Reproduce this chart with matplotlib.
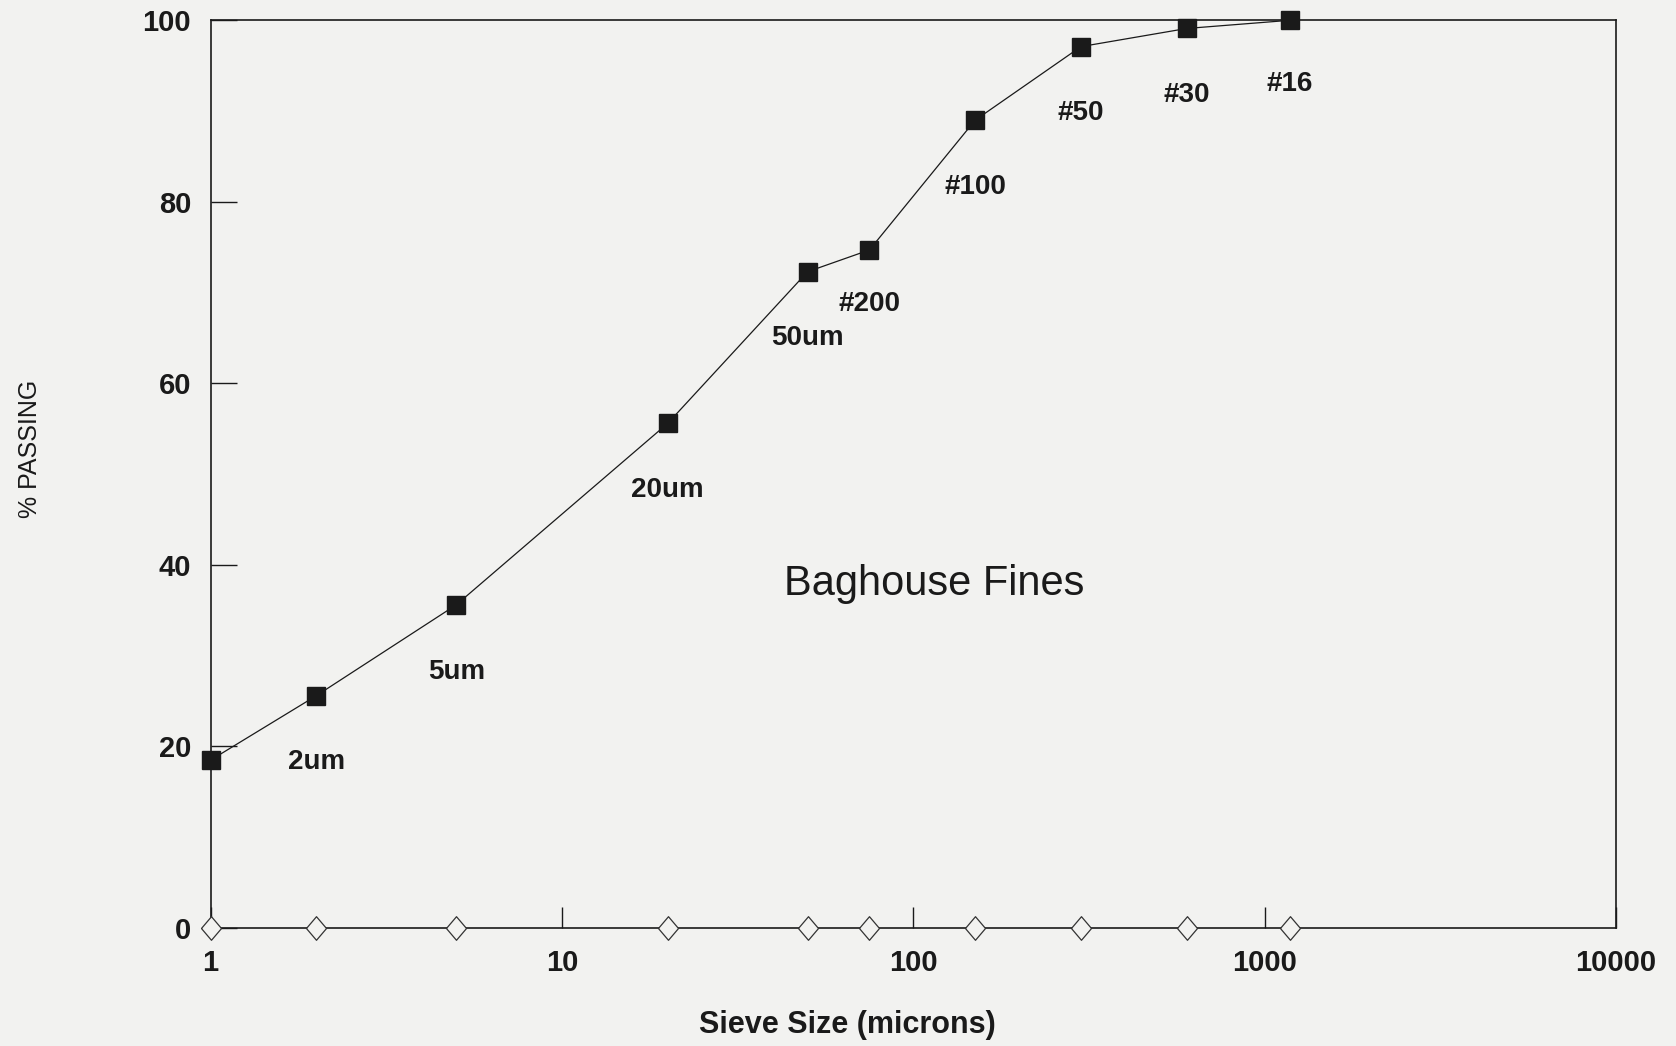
import numpy as np
import matplotlib
matplotlib.use('Agg')
import matplotlib.pyplot as plt

# sieve sizes (microns) and cumulative percent passing
sizes = [1, 2, 5, 20, 50, 75, 150, 300, 600, 1180]
passing = [18.5, 25.6, 35.6, 55.6, 72.3, 74.7, 89.0, 97.1, 99.1, 100.0]
point_labels = ['', '2um', '5um', '20um', '50um', '#200', '#100', '#50', '#30', '#16']
# vertical label offsets in points (below the marker)
label_dy = [0, -48, -48, -48, -48, -39, -48, -48, -48, -46]

yticks = [0, 20, 40, 60, 80, 100]
xticks = [1, 10, 100, 1000, 10000]
xtick_labels = ['1', '10', '100', '1000', '10000']

plt.rcParams['font.family'] = ['Liberation Sans', 'DejaVu Sans']
paper = '#f2f2f0'
ink = '#1a1a1a'

fig = plt.figure(figsize=(16.76, 10.46), dpi=100, facecolor=paper)
ax = fig.add_axes([0.1257, 0.1128, 0.8385, 0.8678], facecolor=paper)

ax.plot(sizes, passing, '-', color=ink, lw=0.9, marker='s', ms=13,
        mfc=ink, mec=ink, clip_on=False, zorder=3)

# open diamonds along the zero line
diamond = [(-0.85, 0), (0, 1), (0.85, 0), (0, -1), (-0.85, 0)]
ax.plot(sizes, np.zeros(len(sizes)), ls='none', marker=diamond, ms=17,
        mfc=paper, mec='#333333', mew=0.9, clip_on=False, zorder=4)

for x, y, lab, dy in zip(sizes, passing, point_labels, label_dy):
    if lab:
        ax.annotate(lab, (x, y), xytext=(0, dy), textcoords='offset points',
                    ha='center', va='center', fontsize=20, fontweight='bold',
                    color=ink)

ax.text(0.515, 0.379, 'Baghouse Fines', transform=ax.transAxes,
        ha='center', va='center', fontsize=30, color=ink)

ax.set_xscale('log')
ax.set_xlim(1, 10000)
ax.set_ylim(0, 100)
ax.set_xticks(xticks)
ax.set_xticklabels(xtick_labels)
ax.set_yticks(yticks)
ax.minorticks_off()
ax.tick_params(axis='y', direction='in', length=19, width=1, pad=14,
               labelsize=21, colors=ink)
ax.tick_params(axis='x', direction='in', length=15, width=1, pad=15,
               labelsize=21, colors=ink)
for lab in ax.get_xticklabels() + ax.get_yticklabels():
    lab.set_fontweight('bold')

for sp in ax.spines.values():
    sp.set_linewidth(1.2)
    sp.set_color(ink)

# axis titles placed in figure coordinates
fig.text(847 / 1676, 1 - 1025 / 1046, 'Sieve Size (microns)', fontsize=22,
         fontweight='bold', color=ink, ha='center', va='center')
fig.text(30 / 1676, 1 - 449 / 1046, '% PASSING', fontsize=18, color=ink,
         rotation=90, ha='center', va='center')

fig.savefig('out.png', dpi=100, facecolor=paper)
